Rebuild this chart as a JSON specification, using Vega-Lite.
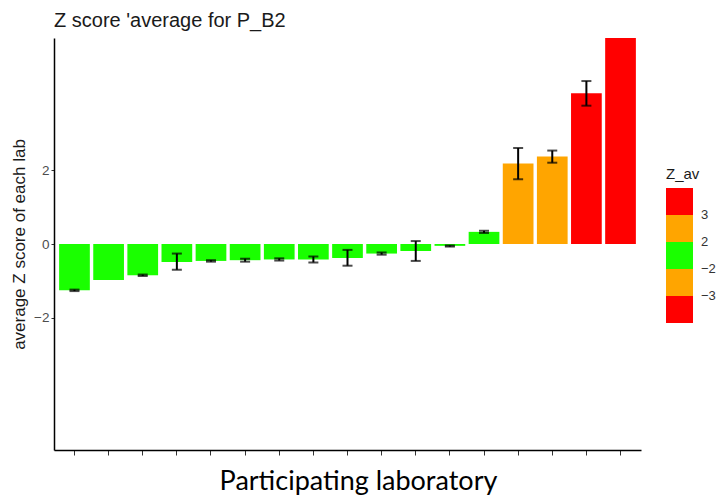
{
  "$schema": "https://vega.github.io/schema/vega-lite/v6.json",
  "autosize": {"type": "none"},
  "width": 587,
  "height": 412,
  "padding": {"left": 54, "top": 38, "right": 77, "bottom": 47},
  "background": "white",
  "title": {
    "text": "Z score 'average for P_B2",
    "anchor": "start",
    "frame": "group",
    "font": "Liberation Sans",
    "fontSize": 20,
    "fontWeight": "normal",
    "color": "#1a1a1a",
    "offset": 7
  },
  "config": {
    "view": {"stroke": null},
    "axis": {"grid": false, "domainColor": "#000000", "tickColor": "#333333", "domainWidth": 1.5, "tickWidth": 1}
  },
  "data": {
    "values": [
      {"lab": "L01", "z": -1.26, "lo": -1.24, "hi": -1.28},
      {"lab": "L02", "z": -0.98, "lo": null, "hi": null},
      {"lab": "L03", "z": -0.85, "lo": -0.83, "hi": -0.87},
      {"lab": "L04", "z": -0.49, "lo": -0.26, "hi": -0.70},
      {"lab": "L05", "z": -0.46, "lo": -0.44, "hi": -0.48},
      {"lab": "L06", "z": -0.44, "lo": -0.40, "hi": -0.48},
      {"lab": "L07", "z": -0.42, "lo": -0.39, "hi": -0.45},
      {"lab": "L08", "z": -0.42, "lo": -0.34, "hi": -0.50},
      {"lab": "L09", "z": -0.38, "lo": -0.16, "hi": -0.59},
      {"lab": "L10", "z": -0.26, "lo": -0.23, "hi": -0.29},
      {"lab": "L11", "z": -0.19, "lo": 0.08, "hi": -0.46},
      {"lab": "L12", "z": -0.05, "lo": -0.04, "hi": -0.07},
      {"lab": "L13", "z": 0.33, "lo": 0.36, "hi": 0.30},
      {"lab": "L14", "z": 2.19, "lo": 2.61, "hi": 1.76},
      {"lab": "L15", "z": 2.38, "lo": 2.54, "hi": 2.21},
      {"lab": "L16", "z": 4.10, "lo": 4.43, "hi": 3.76},
      {"lab": "L17", "z": 5.6, "lo": null, "hi": null}
    ]
  },
  "encoding": {
    "x": {
      "field": "lab",
      "type": "nominal",
      "sort": null,
      "scale": {"paddingInner": 0.1, "paddingOuter": 0.15},
      "axis": {
        "title": "Participating laboratory",
        "labels": false,
        "tickSize": 5,
        "titleFont": "Lato",
        "titleFontSize": 27,
        "titleFontWeight": "normal",
        "titleColor": "#000000",
        "titlePadding": 13,
        "titleX": 304
      }
    }
  },
  "layer": [
    {
      "transform": [
        {"calculate": "datum.z < -3 ? 0.5 : datum.z < -2 ? 1.5 : datum.z < 2 ? 2.5 : datum.z < 3 ? 3.5 : 4.5", "as": "zclass"}
      ],
      "mark": {"type": "bar"},
      "encoding": {
        "y": {
          "field": "z",
          "type": "quantitative",
          "scale": {"domain": [-5.6, 5.6], "nice": false, "zero": false},
          "axis": {
            "title": "average Z score of each lab",
            "values": [-2, 0, 2],
            "labelExpr": "datum.value < 0 ? '\u2212' + abs(datum.value) : datum.label",
            "tickSize": 3,
            "labelPadding": 2,
            "labelFont": "Liberation Sans",
            "labelFontSize": 13.5,
            "labelColor": "#4d4d4d",
            "titleFont": "Liberation Sans",
            "titleFontSize": 17,
            "titleFontWeight": "normal",
            "titleColor": "#1a1a1a",
            "titlePadding": 5
          }
        },
        "color": {
          "field": "zclass",
          "type": "quantitative",
          "scale": {
            "type": "threshold",
            "domain": [1, 2, 3, 4],
            "range": ["#ff0000", "#ffa500", "#1aff00", "#ffa500", "#ff0000"]
          },
          "legend": {
            "type": "gradient",
            "title": "Z_av",
            "orient": "none",
            "legendX": 612,
            "legendY": 129,
            "titleFont": "Liberation Sans",
            "titleFontSize": 15,
            "titleFontWeight": "normal",
            "titleColor": "#1a1a1a",
            "titlePadding": 6,
            "gradientLength": 135,
            "gradientThickness": 27,
            "gradientStrokeWidth": 0,
            "labelFont": "Liberation Sans",
            "labelFontSize": 13,
            "labelColor": "#333333",
            "labelOffset": 8,
            "labelExpr": "datum.value == 1 ? '\u22123' : datum.value == 2 ? '\u22122' : datum.value == 3 ? '2' : datum.value == 4 ? '3' : ''",
            "direction": "vertical"
          }
        }
      }
    },
    {
      "transform": [{"filter": "datum.lo != null"}],
      "mark": {"type": "rule", "color": "#000000", "strokeWidth": 2},
      "encoding": {
        "y": {"field": "lo", "type": "quantitative"},
        "y2": {"field": "hi"}
      }
    },
    {
      "transform": [{"filter": "datum.lo != null"}],
      "mark": {"type": "tick", "color": "#000000", "orient": "horizontal", "size": 10, "thickness": 2},
      "encoding": {
        "y": {"field": "lo", "type": "quantitative"}
      }
    },
    {
      "transform": [{"filter": "datum.lo != null"}],
      "mark": {"type": "tick", "color": "#000000", "orient": "horizontal", "size": 10, "thickness": 2},
      "encoding": {
        "y": {"field": "hi", "type": "quantitative"}
      }
    }
  ]
}
